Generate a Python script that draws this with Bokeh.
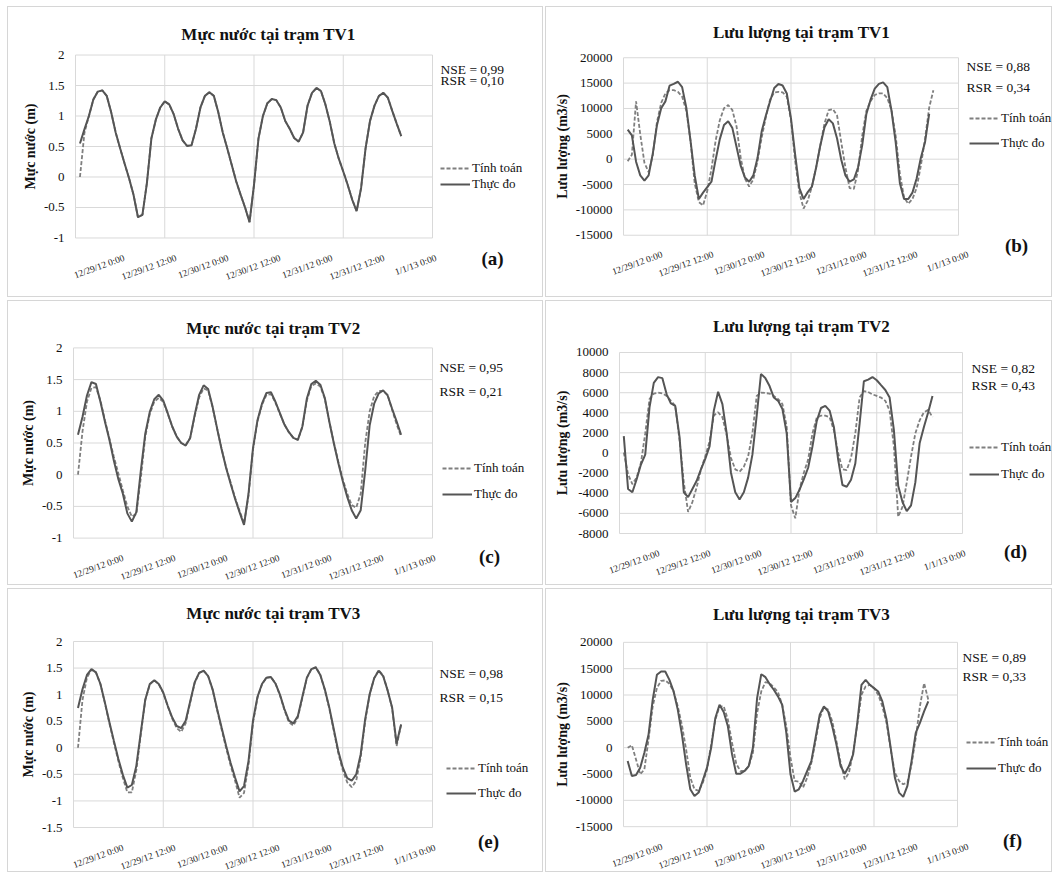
import math
from bokeh.plotting import figure
from bokeh.models import (Range1d, FixedTicker, Legend, LegendItem, Label,
                          LabelSet, ColumnDataSource)
from bokeh.core.properties import value
from bokeh.layouts import column, row
from bokeh.embed import file_html
from bokeh.resources import INLINE

FONT = "Liberation Serif"
OBS_COLOR = "#555555"
SIM_COLOR = "#7f7f7f"
GRID_COLOR = "#d9d9d9"

# ---------------- data (hourly, hour 0 = 12/29/12 0:00) ----------------
DATE_LABELS = ["12/29/12 0:00", "12/29/12 12:00", "12/30/12 0:00", "12/30/12 12:00",
               "12/31/12 0:00", "12/31/12 12:00", "1/1/13 0:00"]
DATE_HOURS = [0, 12, 24, 36, 48, 60, 72]
X_START, X_END = -1.0, 79.0          # 80 hourly categories
GRID_EVERY = 20

WL_TICKS = [-1, -0.5, 0, 0.5, 1, 1.5, 2]
WL_TICKS_E = [-1.5, -1, -0.5, 0, 0.5, 1, 1.5, 2]
Q_TICKS = [-15000, -10000, -5000, 0, 5000, 10000, 15000, 20000]
Q_TICKS_D = [-8000, -6000, -4000, -2000, 0, 2000, 4000, 6000, 8000, 10000]

a_obs = [0.55, 0.78, 1.00, 1.27, 1.40, 1.42, 1.33, 1.06, 0.73, 0.47,
         0.22, -0.02, -0.29, -0.66, -0.62, -0.10, 0.63, 0.94, 1.14, 1.24,
         1.19, 1.03, 0.79, 0.60, 0.51, 0.52, 0.79, 1.14, 1.33, 1.39,
         1.33, 1.06, 0.73, 0.47, 0.20, -0.07, -0.29, -0.50, -0.74, -0.13,
         0.63, 1.00, 1.21, 1.28, 1.26, 1.14, 0.92, 0.79, 0.64, 0.58,
         0.73, 1.17, 1.38, 1.46, 1.41, 1.19, 0.90, 0.55, 0.30, 0.09,
         -0.13, -0.37, -0.56, -0.18, 0.47, 0.92, 1.17, 1.33, 1.38, 1.30,
         1.08, 0.87, 0.67]
a_sim = [0.00, 0.72, 1.00, 1.27, 1.40, 1.42, 1.33, 1.06, 0.73, 0.47,
         0.22, -0.02, -0.29, -0.66, -0.62, -0.10, 0.63, 0.94, 1.14, 1.24,
         1.19, 1.03, 0.79, 0.60, 0.51, 0.52, 0.79, 1.14, 1.33, 1.39,
         1.33, 1.06, 0.73, 0.47, 0.20, -0.07, -0.29, -0.50, -0.74, -0.13,
         0.63, 1.00, 1.21, 1.28, 1.26, 1.14, 0.92, 0.79, 0.64, 0.58,
         0.73, 1.17, 1.38, 1.46, 1.41, 1.19, 0.90, 0.55, 0.30, 0.09,
         -0.13, -0.37, -0.56, -0.18, 0.47, 0.92, 1.17, 1.33, 1.38, 1.30,
         1.08, 0.87, 0.67]

b_obs = [5820, 4700, -500, -3200, -4250, -3200, 1150, 6750, 10050, 11400,
         14500, 14840, 15270, 14200, 10170, 3640, -3200, -7860, -6600, -5500,
         -4440, -100, 3950, 6750, 7500, 6130, 2400, -1330, -3630, -4440,
         -3200, 220, 5500, 8620, 11420, 14030, 14840, 14530, 12970, 8000,
         850, -5690, -7860, -6500, -5400, -1650, 2710, 6300, 7870, 7060,
         4080, -100, -3200, -4440, -4000, -1650, 2710, 8930, 11730, 13900,
         14840, 15150, 14220, 9550, 3330, -4750, -7860, -7860, -6600, -3820,
         220, 3330, 8930]
b_sim = [-400, 850, 11400, 4900, -720, -2560, 800, 7370, 11100, 12970,
         13600, 13600, 13280, 12350, 9550, 3640, -4750, -8480, -9100, -6300,
         -1960, 3640, 7690, 10050, 10670, 9680, 6440, 220, -3820, -5380,
         -4000, -400, 4270, 8310, 11730, 13160, 13280, 13160, 12350, 7690,
         -400, -6600, -9730, -8170, -5380, -1650, 2710, 7060, 9680, 9860,
         8620, 3330, -1650, -5690, -5880, -2270, 4580, 9550, 11420, 12660,
         12970, 12970, 12040, 9680, 4580, -2890, -7550, -8790, -7860, -5690,
         -1330, 3950, 10170, 13600]

c_obs = [0.63, 0.91, 1.25, 1.46, 1.43, 1.15, 0.84, 0.55, 0.22, -0.07,
         -0.30, -0.61, -0.74, -0.59, 0.06, 0.65, 0.99, 1.19, 1.26, 1.17,
         0.97, 0.76, 0.60, 0.50, 0.46, 0.58, 0.94, 1.26, 1.41, 1.35,
         1.07, 0.73, 0.40, 0.11, -0.14, -0.38, -0.59, -0.79, -0.30, 0.42,
         0.86, 1.12, 1.29, 1.30, 1.15, 0.97, 0.79, 0.67, 0.58, 0.55,
         0.76, 1.20, 1.43, 1.48, 1.42, 1.21, 0.84, 0.50, 0.19, -0.10,
         -0.35, -0.56, -0.69, -0.56, 0.06, 0.78, 1.12, 1.28, 1.33, 1.25,
         1.04, 0.84, 0.63]
c_sim = [0.00, 0.68, 1.15, 1.37, 1.38, 1.17, 0.86, 0.57, 0.28, 0.02,
         -0.25, -0.50, -0.66, -0.62, -0.05, 0.60, 0.96, 1.15, 1.21, 1.15,
         0.96, 0.76, 0.60, 0.50, 0.47, 0.58, 0.92, 1.22, 1.36, 1.33,
         1.06, 0.73, 0.41, 0.12, -0.12, -0.36, -0.57, -0.77, -0.33, 0.40,
         0.84, 1.10, 1.26, 1.27, 1.14, 0.96, 0.79, 0.67, 0.58, 0.55,
         0.75, 1.17, 1.40, 1.44, 1.39, 1.20, 0.84, 0.51, 0.21, -0.07,
         -0.30, -0.48, -0.52, -0.30, 0.50, 1.00, 1.24, 1.32, 1.32, 1.26,
         1.02, 0.80, 0.60]

d_obs = [1690, -3570, -3900, -2600, -1140, -160, 4550, 6980, 7550, 7450,
         5840, 4930, 4700, 1620, -3900, -4380, -3570, -2760, -1620, -590,
         650, 4220, 6100, 4870, 1950, -1950, -3900, -4610, -3900, -2440,
         -160, 3730, 7860, 7470, 6660, 5520, 5190, 4380, 1950, -4870,
         -4480, -3640, -2600, -1460, 650, 3180, 4480, 4700, 4220, 2600,
         -650, -3180, -3350, -2660, -1040, 2920, 7140, 7300, 7560, 7240,
         6750, 6270, 5520, 2270, -3250, -4870, -5780, -5200, -2920, 970,
         2600, 4060, 5680]
d_sim = [60, -2110, -3090, -2440, -970, 1950, 5360, 5910, 6010, 5940,
         5680, 5190, 4700, 1300, -2920, -5850, -4870, -3410, -1620, -330,
         1140, 3730, 4060, 3570, 1780, -490, -1620, -1850, -1360, -330,
         1950, 5680, 6010, 5970, 5910, 5680, 5360, 4870, 2600, -5200,
         -6490, -3570, -1950, -650, 1950, 3510, 3730, 3730, 3570, 2270,
         0, -1620, -1690, -490, 1950, 5520, 6170, 6070, 5840, 5680,
         5520, 5190, 4220, 650, -6330, -5360, -2920, -330, 1950, 3250,
         4060, 4290, 3570]

e_obs = [0.75, 1.10, 1.37, 1.48, 1.42, 1.20, 0.85, 0.48, 0.13, -0.21,
         -0.51, -0.75, -0.70, -0.34, 0.29, 0.91, 1.20, 1.27, 1.20, 1.04,
         0.79, 0.57, 0.41, 0.37, 0.51, 0.87, 1.23, 1.41, 1.45, 1.35,
         1.10, 0.73, 0.38, 0.04, -0.28, -0.56, -0.82, -0.72, -0.25, 0.51,
         0.96, 1.20, 1.32, 1.33, 1.21, 1.00, 0.73, 0.51, 0.46, 0.60,
         0.96, 1.32, 1.48, 1.51, 1.37, 1.10, 0.76, 0.35, -0.06, -0.37,
         -0.57, -0.62, -0.50, -0.12, 0.54, 1.01, 1.31, 1.45, 1.35, 1.08,
         0.76, 0.08, 0.44]
e_sim = [0.00, 0.90, 1.32, 1.47, 1.42, 1.20, 0.84, 0.46, 0.10, -0.25,
         -0.57, -0.84, -0.84, -0.42, 0.25, 0.90, 1.19, 1.27, 1.20, 1.03,
         0.78, 0.55, 0.37, 0.30, 0.46, 0.85, 1.22, 1.41, 1.45, 1.35,
         1.09, 0.71, 0.35, 0.00, -0.33, -0.62, -0.94, -0.85, -0.32, 0.47,
         0.94, 1.19, 1.32, 1.33, 1.21, 0.99, 0.71, 0.48, 0.42, 0.57,
         0.94, 1.31, 1.48, 1.52, 1.37, 1.09, 0.74, 0.32, -0.10, -0.42,
         -0.65, -0.74, -0.62, -0.18, 0.50, 1.00, 1.31, 1.46, 1.36, 1.08,
         0.75, 0.03, 0.44]

f_obs = [-2540, -5380, -5190, -3800, -970, 2490, 9110, 13830, 14460, 14460,
         12880, 10680, 7220, 2490, -3170, -7900, -9160, -8530, -6200, -3800,
         -20, 5640, 8160, 6780, 4070, -1280, -4940, -4940, -4430, -3490,
         -20, 9420, 13950, 13390, 12070, 11000, 9740, 8160, 2810, -5060,
         -8340, -7900, -6320, -4430, -2540, 1870, 6270, 7850, 6900, 4070,
         610, -3490, -4940, -3490, -1280, 4700, 11940, 12880, 11940, 11310,
         10680, 8790, 5330, -20, -5690, -8530, -9340, -7270, -2540, 2810,
         4700, 6900, 8790]
f_sim = [-20, 480, -2230, -5060, -4120, 1550, 7850, 11310, 12700, 12760,
         12130, 10680, 7850, 4260, -340, -5690, -7900, -8210, -6640, -4120,
         600, 5330, 7850, 7850, 5330, 920, -3050, -4430, -4430, -3490,
         -970, 6590, 10680, 12440, 12250, 11440, 10550, 8160, 4070, -1910,
         -6320, -6450, -7580, -5690, -2860, 1230, 5640, 7660, 7220, 5010,
         1230, -2860, -6010, -4750, -970, 4380, 10050, 11630, 11940, 11310,
         10050, 7850, 4700, -340, -4750, -6320, -6950, -6640, -3170, 1870,
         7850, 12250, 9100]

# ---------------- panel definitions (layout in page pixels) ----------------
PANELS = [
    dict(title="Mực nước tại trạm TV1", ylabel="Mực nước (m)", obs=a_obs, sim=a_sim,
         ticks=WL_TICKS, nse="NSE = 0,99", rsr="RSR = 0,10", tag="(a)",
         origin=(7, 6), size=(536, 291), frame=(74, 431, 51, 236), tpos=(267, 30),
         leg=(439, 167, 183), npos=(439, 66, 77), tagpos=(491, 257), dates=(47, 52)),
    dict(title="Lưu lượng tại trạm TV1", ylabel="Lưu lượng (m3/s)", obs=b_obs, sim=b_sim,
         ticks=Q_TICKS, nse="NSE = 0,88", rsr="RSR = 0,34", tag="(b)",
         origin=(545, 6), size=(507, 291), frame=(622, 957, 59, 247), tpos=(800, 32),
         leg=(968, 133, 158), npos=(965, 68, 90), tagpos=(1015, 258), dates=(37, 51)),
    dict(title="Mực nước tại trạm TV2", ylabel="Mực nước (m)", obs=c_obs, sim=c_sim,
         ticks=WL_TICKS, nse="NSE = 0,95", rsr="RSR = 0,21", tag="(c)",
         origin=(7, 300), size=(536, 285), frame=(72, 431, 343, 536), tpos=(272, 323),
         leg=(441, 467, 493), npos=(438, 363, 387), tagpos=(488, 555), dates=(48, 52)),
    dict(title="Lưu lượng tại trạm TV2", ylabel="Lưu lượng (m3/s)", obs=d_obs, sim=d_sim,
         ticks=Q_TICKS_D, nse="NSE = 0,82", rsr="RSR = 0,43", tag="(d)",
         origin=(545, 300), size=(507, 285), frame=(618, 961, 352, 537), tpos=(800, 325),
         leg=(968, 452, 479), npos=(970, 368, 386), tagpos=(1014, 555), dates=(38, 51)),
    dict(title="Mực nước tại trạm TV3", ylabel="Mực nước (m)", obs=e_obs, sim=e_sim,
         ticks=WL_TICKS_E, nse="NSE = 0,98", rsr="RSR = 0,15", tag="(e)",
         origin=(7, 588), size=(536, 284), frame=(72, 431, 640, 826), tpos=(272, 612),
         leg=(445, 767, 792), npos=(438, 672, 696), tagpos=(487, 840), dates=(48, 52)),
    dict(title="Lưu lượng tại trạm TV3", ylabel="Lưu lượng (m3/s)", obs=f_obs, sim=f_sim,
         ticks=Q_TICKS, nse="NSE = 0,89", rsr="RSR = 0,33", tag="(f)",
         origin=(545, 588), size=(507, 284), frame=(622, 956, 640, 825), tpos=(800, 612),
         leg=(965, 741, 767), npos=(961, 655, 674), tagpos=(1011, 839), dates=(37, 51)),
]


def build(pp):
    ox, oy = pp["origin"]
    w, h = pp["size"]
    L, R, T, B = pp["frame"]            # gridded plot box (page px)
    ticks = pp["ticks"]
    ymin, ymax = min(ticks), max(ticks)

    # Bokeh frame: starts just right of the tick labels, reaches the panel's right edge,
    # and is vertically centred on the plot box (so the axis title stays centred on it).
    FL = L - 11
    FR = ox + w - 1
    cy = (T + B) / 2
    half = min(cy - oy, oy + h - cy) - 1
    FT, FB = cy - half, cy + half

    px_x = (R - L) / (X_END - X_START)
    px_y = (B - T) / (ymax - ymin)
    xr = Range1d(X_START - (L - FL) / px_x, X_END + (FR - R) / px_x)
    yr = Range1d(ymin - (FB - B) / px_y, ymax + (T - FT) / px_y)

    def dx(gx):
        return X_START + (gx - L) / px_x

    def dy(gy):
        return ymax - (gy - T) / px_y

    p = figure(width=w, height=h, output_backend="svg", toolbar_location=None,
               x_range=xr, y_range=yr,
               min_border_left=int(round(FL - ox)), min_border_right=int(round(ox + w - FR)),
               min_border_top=int(round(FT - oy)), min_border_bottom=int(round(oy + h - FB)))
    p.styles = {"border": "1px solid #d6d6d6", "box-sizing": "border-box"}
    p.outline_line_color = None
    p.background_fill_color = "white"
    p.border_fill_color = "white"
    p.xaxis.visible = False
    p.xgrid.visible = False
    p.ygrid.visible = False

    # plot-box gridlines (incl. the box edges)
    vx = [X_START + GRID_EVERY * k for k in range(int((X_END - X_START) / GRID_EVERY) + 1)]
    p.segment(x0=vx, x1=vx, y0=[ymin] * len(vx), y1=[ymax] * len(vx),
              line_color=GRID_COLOR, line_width=1)
    p.segment(x0=[X_START] * len(ticks), x1=[X_END] * len(ticks), y0=ticks, y1=ticks,
              line_color=GRID_COLOR, line_width=1)

    ax = p.yaxis[0]
    ax.ticker = FixedTicker(ticks=ticks)
    ax.major_label_overrides = {t: f"{t:g}" for t in ticks}
    ax.axis_line_color = None
    ax.major_tick_line_color = None
    ax.minor_tick_line_color = None
    ax.major_tick_out = 0
    ax.major_tick_in = 0
    ax.major_label_standoff = 0
    ax.major_label_text_font = FONT
    ax.major_label_text_font_size = "13px"
    ax.major_label_text_color = "#111111"
    ax.axis_label = pp["ylabel"]
    ax.axis_label_text_font = FONT
    ax.axis_label_text_font_style = "bold"
    ax.axis_label_text_font_size = "14px"
    ax.axis_label_text_color = "#111111"
    ax.axis_label_standoff = 3

    sim, obs = pp["sim"], pp["obs"]
    r_sim = p.line(list(range(len(sim))), sim, line_color=SIM_COLOR, line_dash="4 2",
                   line_width=1.8)
    r_obs = p.line(list(range(len(obs))), obs, line_color=OBS_COLOR, line_width=2)

    lx, ly1, ly2 = pp["leg"]
    row_h = 16
    legend = Legend(items=[LegendItem(label="Tính toán", renderers=[r_sim]),
                           LegendItem(label="Thực đo", renderers=[r_obs])],
                    location=(lx - FL, FB - (ly2 + row_h / 2)), orientation="vertical",
                    border_line_alpha=0, background_fill_alpha=0, padding=0, margin=0,
                    spacing=int(ly2 - ly1 - row_h), glyph_width=30, glyph_height=row_h,
                    label_height=row_h, label_standoff=2, label_text_font=FONT,
                    label_text_font_size="13px", label_text_color="#111111")
    p.add_layout(legend)

    tx0, ty0 = pp["tpos"]
    p.add_layout(Label(x=dx(tx0), y=dy(ty0), text=pp["title"], text_align="center",
                       text_baseline="middle", text_font=FONT, text_font_style="bold",
                       text_font_size="17px", text_color="#111111"))
    nx, ny1, ny2 = pp["npos"]
    for txt, ny in ((pp["nse"], ny1), (pp["rsr"], ny2)):
        p.add_layout(Label(x=dx(nx), y=dy(ny), text=txt, text_align="left",
                           text_baseline="middle", text_font=FONT,
                           text_font_size="13.5px", text_color="#111111"))
    tx, ty = pp["tagpos"]
    p.add_layout(Label(x=dx(tx), y=dy(ty), text=pp["tag"], text_align="center",
                       text_baseline="middle", text_font=FONT, text_font_style="bold",
                       text_font_size="19px", text_color="#111111"))

    first, step = pp["dates"]
    src = ColumnDataSource(dict(
        x=[dx(L + first + hr / 12 * step) for hr in DATE_HOURS],
        y=[dy(B + 15)] * len(DATE_HOURS),
        text=DATE_LABELS))
    p.add_layout(LabelSet(x="x", y="y", text="text", source=src, angle=math.radians(20),
                          text_align="right", text_baseline="top",
                          text_font=value(FONT), text_font_size=value("9.5px"),
                          text_color="#222222"))
    return p


figs = [build(pp) for pp in PANELS]
layout = column(row(figs[0], figs[1], spacing=2),
                row(figs[2], figs[3], spacing=2),
                row(figs[4], figs[5], spacing=2),
                spacing=3, margin=(6, 0, 0, 7))

open("out.html", "w").write(file_html(layout, INLINE))
